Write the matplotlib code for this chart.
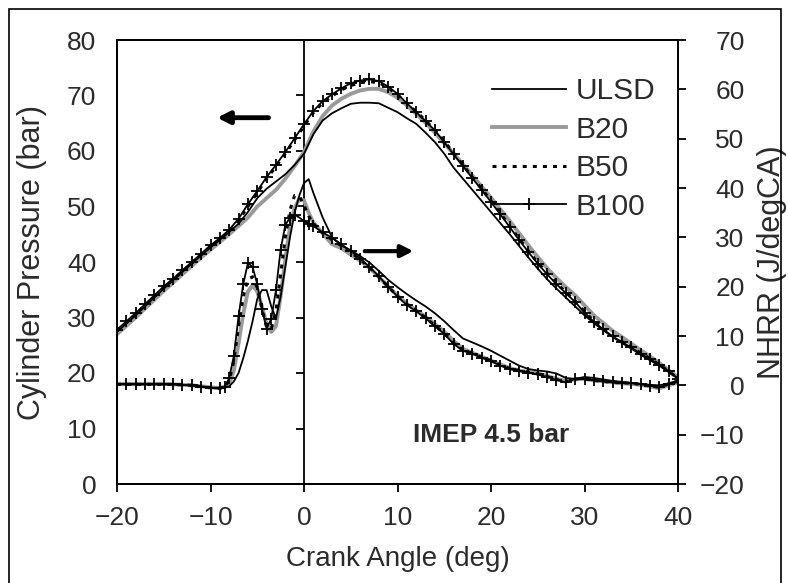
import matplotlib
matplotlib.use('Agg')
import matplotlib.pyplot as plt
from matplotlib.patches import Rectangle

plt.rcParams['font.family'] = ['Liberation Sans', 'DejaVu Sans']

# crank angle grids (deg)
p_angle = list(range(-20, 41))
h_angle = list(range(-20, -9)) + [v / 2 for v in range(-19, 3)] + list(range(2, 41))

# cylinder pressure (bar)
p_ulsd = [27.4, 28.9, 30.4, 32.0, 33.6, 35.2, 36.7, 38.2, 39.7, 41.2, 42.6, 44.0, 45.4, 46.9,
          49.0, 51.5, 53.2, 54.5, 55.8, 57.5, 59.5,
          63.0, 65.5, 66.8, 67.7, 68.5, 68.7, 68.7, 68.6, 67.8, 67.0,
          65.9, 64.9, 63.3, 61.6, 59.5, 57.0, 55.0, 53.0, 51.0, 49.0,
          47.0, 45.0, 42.9, 40.8, 38.8, 36.9, 35.2, 33.6, 32.0, 30.4,
          29.0, 27.7, 26.5, 25.4, 24.4, 23.3, 22.3, 21.3, 20.2, 19.0]
p_b20 = [27.0, 28.5, 30.0, 31.6, 33.2, 34.8, 36.3, 37.8, 39.3, 40.8, 42.2, 43.6, 45.0, 46.5,
         48.0, 50.0, 51.5, 53.0, 55.0, 57.3, 59.8,
         63.5, 66.3, 68.2, 69.4, 70.3, 70.9, 71.2, 71.2, 70.6, 69.6,
         68.2, 66.7, 65.1, 63.3, 61.4, 59.5, 57.6, 55.6, 53.6, 51.6,
         49.5, 47.4, 45.2, 43.0, 40.9, 38.9, 37.1, 35.5, 34.0, 32.2,
         30.4, 29.0, 27.6, 26.5, 25.3, 24.1, 23.0, 21.8, 20.5, 19.2]
p_b50 = [27.6, 29.1, 30.6, 32.2, 33.8, 35.4, 36.8, 38.3, 39.8, 41.3, 42.8, 44.1, 45.6, 47.5,
         50.0, 52.5, 55.0, 57.2, 59.5, 62.0, 64.5,
         66.9, 68.7, 69.9, 71.0, 71.8, 72.3, 72.5, 72.3, 71.4, 70.1,
         68.6, 67.1, 65.5, 63.8, 61.8, 59.6, 57.5, 55.3, 53.2, 51.0,
         48.8, 46.5, 44.2, 42.0, 39.9, 38.0, 36.2, 34.6, 33.0, 31.1,
         29.4, 28.1, 26.8, 25.7, 24.7, 23.6, 22.6, 21.5, 20.3, 19.0]
p_b100 = [27.8, 29.3, 30.8, 32.4, 34.0, 35.6, 37.0, 38.5, 40.0, 41.5, 43.0, 44.3, 45.8, 47.8,
          50.4, 52.8, 55.3, 57.5, 59.8, 62.3, 64.8,
          67.2, 69.0, 70.2, 71.3, 72.2, 72.7, 72.9, 72.6, 71.6, 70.3,
          68.6, 67.0, 65.4, 63.7, 61.6, 59.4, 57.3, 55.1, 53.0, 50.8,
          48.6, 46.3, 44.0, 41.8, 39.7, 37.8, 36.0, 34.4, 32.8, 30.9,
          29.2, 27.9, 26.6, 25.6, 24.6, 23.5, 22.5, 21.5, 20.3, 19.0]

# net heat release rate (J/degCA)
h_ulsd = [0.2, 0.2, 0.2, 0.2, 0.2, 0.2, 0.2, 0.1, 0.0, -0.2, -0.4,
          -0.5, -0.5, -0.5, -0.2, 0.8, 2.5, 5.5, 9.0, 13.0, 17.5, 19.3,
          19.3, 16.0, 13.5, 18.0, 24.0, 30.0, 35.0, 38.5, 41.0, 41.8, 39.0,
          34.0, 30.0, 28.3, 27.4, 26.2, 24.9, 23.2, 21.4, 19.9, 18.5,
          17.2, 16.0, 14.6, 13.0, 11.2, 9.5, 8.7, 7.9, 7.0, 6.0,
          5.0, 4.0, 3.3, 3.0, 2.8, 2.4, 1.5, 1.3, 1.7, 1.5,
          1.2, 0.9, 0.7, 0.5, 0.3, 0.1, 0.0, 0.4, 1.0]
h_b20 = [0.3, 0.3, 0.3, 0.3, 0.3, 0.3, 0.2, 0.1, 0.0, -0.2, -0.4,
         -0.5, -0.5, -0.3, 0.3, 3.0, 8.5, 14.5, 19.0, 20.3, 19.0, 16.0,
         12.5, 10.8, 12.0, 18.0, 25.5, 32.0, 36.0, 37.8, 37.5, 35.0, 33.0,
         30.8, 28.6, 27.8, 26.5, 25.3, 23.8, 22.0, 20.0, 18.2, 16.5,
         15.2, 13.9, 12.4, 10.9, 9.0, 7.4, 6.6, 5.8, 5.0, 4.2,
         3.5, 3.0, 2.7, 2.4, 1.9, 1.3, 0.9, 1.2, 1.3, 1.0,
         0.8, 0.6, 0.4, 0.3, 0.1, -0.2, -0.6, 0.0, 0.6]
h_b50 = [0.2, 0.2, 0.2, 0.2, 0.2, 0.2, 0.2, 0.1, 0.0, -0.3, -0.5,
         -0.6, -0.6, -0.4, 1.0, 5.0, 12.0, 18.0, 21.5, 22.0, 19.8, 15.5,
         11.8, 11.5, 15.0, 22.5, 30.0, 35.5, 38.5, 38.3, 36.5, 34.3, 32.8,
         30.9, 29.5, 28.3, 27.0, 25.5, 23.9, 22.0, 20.0, 18.1, 16.4,
         15.1, 13.7, 12.1, 10.6, 8.6, 7.2, 6.5, 5.7, 5.0, 4.1,
         3.4, 3.0, 2.7, 2.3, 1.8, 1.2, 0.7, 1.3, 1.3, 1.0,
         0.8, 0.6, 0.5, 0.4, 0.2, -0.1, -0.4, 0.3, 0.8]
h_b100 = [0.2, 0.2, 0.2, 0.2, 0.2, 0.2, 0.2, 0.1, 0.0, -0.3, -0.5,
          -0.6, -0.6, -0.4, 1.5, 6.0, 14.0, 20.5, 24.8, 24.0, 20.5, 15.5,
          11.5, 13.5, 19.3, 27.5, 32.5, 34.0, 34.6, 34.0, 33.3, 32.8, 32.3,
          31.0, 29.9, 28.6, 27.2, 25.7, 24.0, 22.1, 20.0, 18.0, 16.3,
          15.0, 13.6, 12.0, 10.4, 8.4, 7.0, 6.4, 5.6, 4.9, 4.0,
          3.3, 2.9, 2.6, 2.2, 1.7, 1.1, 0.6, 1.3, 1.3, 1.0,
          0.8, 0.6, 0.5, 0.4, 0.2, -0.1, -0.4, 0.3, 0.8]

fuels = ['ULSD', 'B20', 'B50', 'B100']
x_ticks = list(range(-20, 41, 10))
p_ticks = list(range(0, 81, 10))
h_ticks = list(range(-20, 71, 10))

txt = '#2b2b2b'
fs = 19

fig = plt.figure(figsize=(7.88, 5.83), dpi=100)
ax = fig.add_axes([117 / 788, 1 - 484 / 583, (678 - 117) / 788, (484 - 40) / 583])
ax2 = ax.twinx()

styles = {
    'ULSD': dict(color='black', lw=1.3),
    'B20': dict(color='#9a9a9a', lw=2.8),
    'B50': dict(color='black', lw=2.2, ls=(0, (1.3, 2.0)), dash_capstyle='butt'),
    'B100': dict(color='black', lw=1.3, marker='+', ms=8, mew=1.3, markevery=0.011),
}
pres = {'ULSD': p_ulsd, 'B20': p_b20, 'B50': p_b50, 'B100': p_b100}
nhrr = {'ULSD': h_ulsd, 'B20': h_b20, 'B50': h_b50, 'B100': h_b100}

order = ['B20', 'ULSD', 'B50', 'B100']
handles = {}
for f in order:
    handles[f], = ax.plot(p_angle, pres[f], label=f, **styles[f])
for f in order:
    ax2.plot(h_angle, nhrr[f], **styles[f])

ax.set_xlim(-20, 40)
ax.set_ylim(0, 80)
ax2.set_ylim(-20, 70)
ax.set_xticks(x_ticks)
ax.set_yticks(p_ticks)
ax2.set_yticks(h_ticks)

for a in (ax, ax2):
    for s in a.spines.values():
        s.set_linewidth(1.3)

ax.tick_params(axis='y', length=0, pad=15, labelsize=fs, labelcolor=txt)
ax.tick_params(axis='x', direction='out', length=6, width=1.3, pad=10, labelsize=fs, labelcolor=txt)
ax2.tick_params(axis='y', direction='out', length=6, width=1.3, pad=42, labelsize=fs, labelcolor=txt)
for t in ax2.get_yticklabels():
    t.set_horizontalalignment('right')

# primary axis line crossing at 0 deg
x0, x1 = ax.get_xlim()
sec = ax.secondary_yaxis((0 - x0) / (x1 - x0))
sec.set_yticks(p_ticks)
sec.tick_params(direction='out', length=6, width=1.3, labelleft=False, labelright=False)
for s in sec.spines.values():
    s.set_linewidth(1.3)

ax.set_xlabel('Crank Angle (deg)', fontsize=20, color=txt, labelpad=11)
ax.set_ylabel('Cylinder Pressure (bar)', fontsize=22, color=txt)
ax2.set_ylabel('NHRR (J/degCA)', fontsize=22, color=txt)
ax.yaxis.set_label_coords(-0.125, 0.5)
ax2.yaxis.set_label_coords(1.141, 0.5)

ax.annotate('', xy=(-9.6, 66), xytext=(-3.5, 66),
            arrowprops=dict(arrowstyle='-|>', lw=3.5, color='black', mutation_scale=18))
ax2.annotate('', xy=(12.0, 27.2), xytext=(6.2, 27.2),
             arrowprops=dict(arrowstyle='-|>', lw=3.0, color='black', mutation_scale=18))

ax.text(20.0, 8.8, 'IMEP 4.5 bar', fontsize=19, fontweight='bold', color=txt,
        ha='center', va='center')

ax.legend([handles[f] for f in fuels], fuels, loc='upper left', bbox_to_anchor=(0.668, 0.916),
          frameon=False, fontsize=21.5, handlelength=2.5, handletextpad=0.3,
          labelspacing=0.35, borderpad=0, borderaxespad=0, labelcolor=txt)

fig.patches.append(Rectangle((9 / 788, -0.02), (781 - 9) / 788, 1 - 9 / 583 + 0.02,
                             transform=fig.transFigure, fill=False, lw=1.2, edgecolor='black'))

fig.savefig('out.png', dpi=100)
